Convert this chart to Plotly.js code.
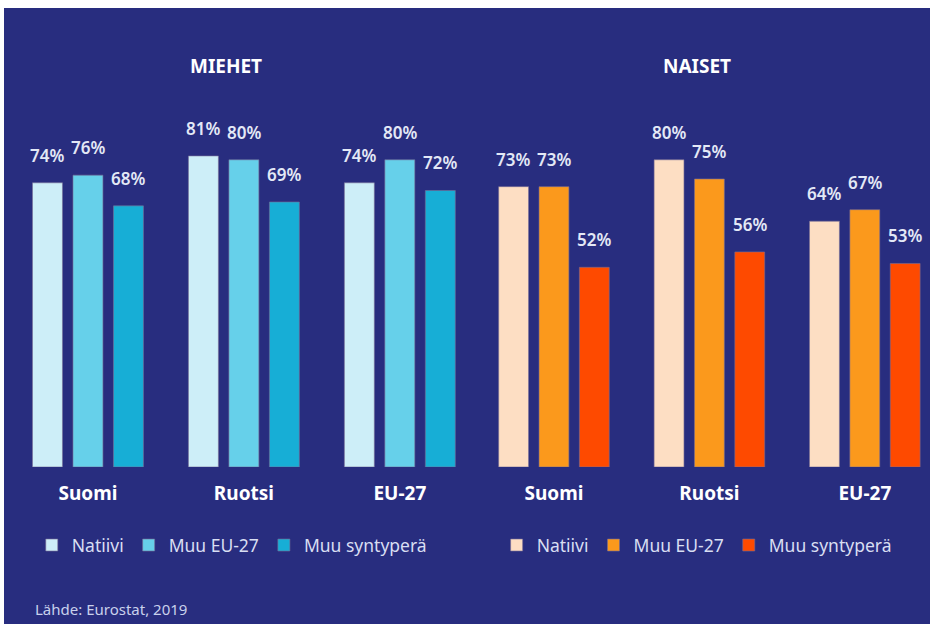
<!DOCTYPE html>
<html>
<head>
<meta charset="utf-8">
<script src="https://cdn.plot.ly/plotly-3.0.1.min.js"></script>
<style>
  html, body { margin: 0; padding: 0; background: #ffffff; }
  #chart { position: absolute; left: 4px; top: 8px; width: 926px; height: 616px; }
</style>
</head>
<body>
<div id="chart"></div>
<script>
// ---- Data ----
const countries = ["Suomi", "Ruotsi", "EU-27"];
const seriesNames = ["Natiivi", "Muu EU-27", "Muu syntyperä"];
const menNatiivi = [74, 81, 74];
const menMuuEU = [76, 80, 80];
const menMuuSynt = [68, 69, 72];
const womenNatiivi = [73, 80, 64];
const womenMuuEU = [73, 75, 67];
const womenMuuSynt = [52, 56, 53];
const panelTitles = ["MIEHET", "NAISET"];
const sourceText = "Lähde: Eurostat, 2019";

// ---- Styles ----
const bg = "#282d7f";
const menColors = ["#cdeef8", "#66d0ea", "#17aed6"];
const womenColors = ["#fddec3", "#fb991c", "#fe4a00"];
const labelFont = { family: "Noto Sans, Open Sans, sans-serif", size: 17, color: "#e3e8f6", weight: 600 };
const barSlotPx = 40.5;   // horizontal distance between bars of one group (style)
const labelLiftPx = 27.5; // distance from bar top to label centre (style)

function barTrace(name, y, color, xa, legend) {
  return {
    type: "bar",
    name: name,
    x: countries,
    y: y,
    xaxis: xa,
    yaxis: "y",
    legend: legend,
    marker: { color: color, line: { color: "rgba(120,110,150,0.6)", width: 1 } },
    hoverinfo: "skip"
  };
}

const menSeries = [menNatiivi, menMuuEU, menMuuSynt];
const womenSeries = [womenNatiivi, womenMuuEU, womenMuuSynt];

const data = [];
menSeries.forEach((s, i) => data.push(barTrace(seriesNames[i], s, menColors[i], "x", "legend")));
womenSeries.forEach((s, i) => data.push(barTrace(seriesNames[i], s, womenColors[i], "x2", "legend2")));

// value labels built from the data arrays
const valueLabels = [];
[[menSeries, "x"], [womenSeries, "x2"]].forEach(([series, xa]) => {
  series.forEach((vals, i) => {
    vals.forEach((v, j) => {
      valueLabels.push({
        text: v + "%", x: countries[j], y: v, xref: xa, yref: "y",
        xanchor: "center", yanchor: "middle", showarrow: false,
        xshift: (i - 1) * barSlotPx, yshift: labelLiftPx,
        font: labelFont
      });
    });
  });
});

const tickFont = { family: "Noto Sans, Open Sans, sans-serif", size: 19, color: "#ffffff", weight: 700 };
const legendFont = { family: "Noto Sans, Open Sans, sans-serif", size: 17.5, color: "#d8def2" };

const xCommon = {
  type: "category",
  showgrid: false, zeroline: false, showline: false,
  ticks: "outside", ticklen: 9, tickcolor: "rgba(0,0,0,0)",
  tickfont: tickFont, fixedrange: true
};

const layout = {
  width: 926, height: 616,
  paper_bgcolor: bg, plot_bgcolor: bg,
  margin: { l: 0, r: 0, t: 0, b: 0 },
  barmode: "group",
  bargap: 0.221,
  bargroupgap: 0.26,
  showlegend: true,
  xaxis: Object.assign({}, xCommon, { domain: [6 / 926, 466 / 926], range: [-0.5, 2.45], anchor: "y" }),
  xaxis2: Object.assign({}, xCommon, { domain: [472.25 / 926, 923 / 926], range: [-0.5, 2.4], anchor: "y" }),
  yaxis: { range: [0, 100], domain: [0.2549, 0.8783], visible: false, fixedrange: true },
  legend: {
    orientation: "h", x: 0.030, y: 0.128, xanchor: "left", yanchor: "middle",
    font: legendFont, bgcolor: "rgba(0,0,0,0)", itemclick: false, itemdoubleclick: false
  },
  legend2: {
    orientation: "h", x: 0.532, y: 0.128, xanchor: "left", yanchor: "middle",
    font: legendFont, bgcolor: "rgba(0,0,0,0)", itemclick: false, itemdoubleclick: false
  },
  annotations: [
    { text: "<b>" + panelTitles[0] + "</b>", xref: "paper", yref: "paper", x: 0.2397, y: 0.9058,
      xanchor: "center", yanchor: "middle", showarrow: false,
      font: { family: "Noto Sans, sans-serif", size: 19, color: "#ffffff" } },
    { text: "<b>" + panelTitles[1] + "</b>", xref: "paper", yref: "paper", x: 0.7484, y: 0.9058,
      xanchor: "center", yanchor: "middle", showarrow: false,
      font: { family: "Noto Sans, sans-serif", size: 19, color: "#ffffff" } },
    { text: sourceText, xref: "paper", yref: "paper", x: 0.0313, y: 0.0244,
      xanchor: "left", yanchor: "middle", showarrow: false,
      font: { family: "Noto Sans, Open Sans, sans-serif", size: 15, color: "#c9d1ec" } }
  ].concat(valueLabels)
};

Plotly.newPlot("chart", data, layout, { displayModeBar: false, staticPlot: true });
</script>
</body>
</html>
